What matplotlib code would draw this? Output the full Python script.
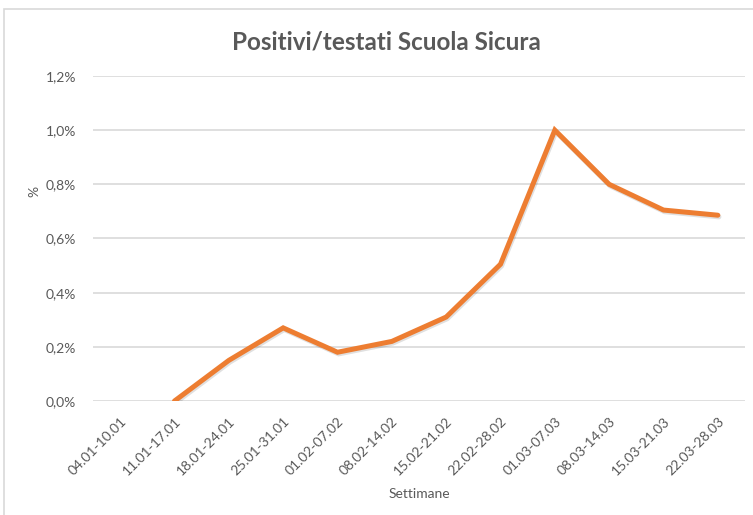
import matplotlib.pyplot as plt
import matplotlib.patheffects as pe
from matplotlib.patches import Rectangle
from matplotlib.ticker import FuncFormatter

# weeks and share of positives over tested (%)
settimane = ['04.01-10.01', '11.01-17.01', '18.01-24.01', '25.01-31.01',
             '01.02-07.02', '08.02-14.02', '15.02-21.02', '22.02-28.02',
             '01.03-07.03', '08.03-14.03', '15.03-21.03', '22.03-28.03']
positivi = [None, 0.0, 0.15, 0.27, 0.18, 0.22, 0.31, 0.505, 1.0, 0.80, 0.705, 0.686]
y_ticks = [0.0, 0.2, 0.4, 0.6, 0.8, 1.0, 1.2]

grey = '#595959'
plt.rcParams['font.family'] = ['Lato', 'DejaVu Sans']

fig = plt.figure(figsize=(7.53, 5.15), dpi=100)
# chart area border (like excel)
fig.patches.append(Rectangle((4/753, -0.01), 1.0, 1 - 9/515 + 0.01, transform=fig.transFigure,
                             fill=False, edgecolor='#D9D9D9', lw=1.2))
ax = fig.add_axes([93/753, 1 - 401/515, 652/753, 325/515])

xs = [i for i, v in enumerate(positivi) if v is not None]
ys = [v for v in positivi if v is not None]
ax.plot(xs, ys, color='#ED7D31', lw=3.6, solid_capstyle='round', solid_joinstyle='miter',
        path_effects=[pe.SimpleLineShadow(offset=(0.8, -1.2), alpha=0.12, shadow_color='k'), pe.Normal()],
        zorder=3)

ax.set_xlim(-0.5, len(settimane) - 0.5)
ax.set_ylim(0, 1.2)
ax.set_yticks(y_ticks)
ax.yaxis.set_major_formatter(FuncFormatter(lambda v, p: f'{v:.1f}%'.replace('.', ',')))
ax.set_xticks(range(len(settimane)))
ax.set_xticklabels(settimane, rotation=45, ha='right', rotation_mode='anchor')
ax.grid(axis='y', color='#D9D9D9', lw=1.2)
ax.set_axisbelow(True)
for s in ax.spines.values():
    s.set_visible(False)
ax.tick_params(length=0, colors=grey, labelsize=10)
ax.tick_params(axis='x', pad=10)
ax.tick_params(axis='y', pad=12)

ax.set_xlabel('Settimane', color=grey, fontsize=10, labelpad=8)
ax.set_ylabel('%', color=grey, fontsize=10, labelpad=8)
ax.yaxis.set_label_coords(-0.08, 0.646)
fig.text(386/753, 1 - 42/515, 'Positivi/testati Scuola Sicura', ha='center', va='center',
         color=grey, fontsize=17.5, fontweight='bold')

fig.savefig('out.png', dpi=100)
